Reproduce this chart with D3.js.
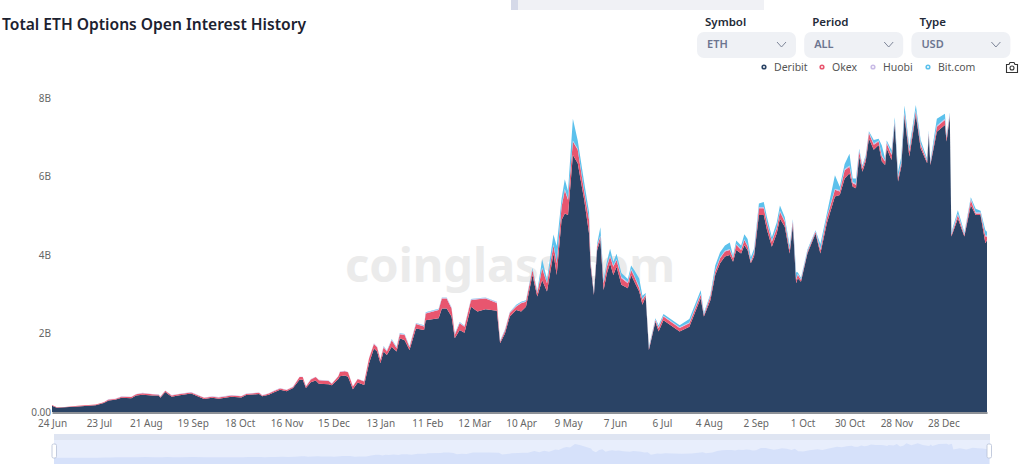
<!DOCTYPE html>
<html>
<head>
<meta charset="utf-8">
<title>Total ETH Options Open Interest History</title>
<script src="https://cdn.jsdelivr.net/npm/d3@7"></script>
<style>
  html, body { margin: 0; padding: 0; background: #fff; overflow: hidden; }
  text { font-family: "Noto Sans", sans-serif; }
</style>
</head>
<body>
<div class="graph"></div>
<script>
// days since 24 Jun
const days = [
  0,3,8,16,27,32,35,39,43,49,
  52,56,62,66,67,70,74,78,86,94,
  99,103,111,117,120,128,130,134,137,141,
  145,149,153,155,157,160,163,165,171,173,
  177,178,181,
  183,186,189,193,196,199,201,203,205,207,
  210,213,215,218,221,225,230,231,239,241,
  244,247,249,252,255,259,263,268,275,277,
  280,283,287,290,293,297,300,303,306,310,
  312,315,317,319,322,325,329,332,333,335,
  337,339,341,343,345,347,349,352,356,358,
  360,363,365,367,369,373,375,378,388,
  394,401,403,407,410,413,416,419,421,423,
  426,428,430,432,434,437,440,442,445,448,
  450,453,456,458,460,461,463,467,472,475,
  479,484,487,490,493,495,497,499,501,503,
  505,508,511,513,515,516,519,521,523,525,
  527,530,534,537,541,542,543,547,552,553,
  555,556,560,564,568,571,574,577,578
]
// all in billions of USD
const deribit = [
  .16,.11,.12,.14,.17,.23,.29,.31,.36,.35,
  .42,.44,.42,.42,.36,.51,.39,.42,.47,.33,
  .36,.34,.39,.37,.43,.46,.40,.44,.50,.57,
  .53,.61,.82,.82,.61,.76,.80,.72,.71,.68,
  .84,.91,.93,
  .90,.58,.75,.69,1.24,1.62,1.54,1.24,1.54,1.45,
  1.66,1.54,1.88,1.83,1.58,2.13,2.09,2.34,2.39,2.64,
  2.64,2.43,1.88,2.09,2.02,2.68,2.56,2.62,2.58,1.75,
  2.00,2.43,2.60,2.56,2.68,3.49,2.94,3.36,3.07,4.04,
  3.49,4.89,5.06,5.02,6.55,6.34,5.40,4.55,3.70,2.98,
  4.13,4.38,3.11,3.53,3.79,3.49,3.70,3.24,3.15,3.49,
  3.32,3.07,2.73,2.94,1.58,2.30,2.05,2.34,2.05,
  2.17,2.90,2.43,2.85,3.49,3.79,3.96,4.00,3.83,4.13,
  4.04,4.25,4.13,3.79,3.96,5.02,5.02,4.64,4.21,4.55,
  4.93,4.72,4.04,4.76,3.28,3.41,3.32,4.04,4.55,4.04,
  4.81,5.49,5.53,5.95,6.08,5.74,5.70,6.51,6.12,6.38,
  6.97,6.68,6.80,6.38,6.29,6.72,6.42,7.35,5.87,6.25,
  7.52,6.51,7.57,6.72,6.34,7.06,6.29,7.14,7.31,6.89,
  7.52,4.47,4.93,4.47,5.27,5.02,5.02,4.30,4.38
]
const okex = [
  .02,.01,.01,.02,.02,.02,.03,.02,.03,.03,
  .03,.04,.03,.02,.03,.03,.03,.03,.03,.03,
  .03,.03,.03,.03,.03,.03,.02,.03,.03,.03,
  .03,.03,.07,.07,.04,.07,.09,.09,.08,.04,
  .07,.11,.11,
  .11,.07,.09,.09,.13,.11,.11,.09,.11,.09,
  .17,.09,.10,.13,.07,.11,.09,.17,.21,.25,
  .25,.21,.09,.17,.15,.17,.31,.27,.20,.04,
  .07,.09,.09,.21,.13,.13,.09,.30,.21,.21,
  .30,.34,.59,.38,.34,.34,.21,.34,.09,.04,
  .09,.09,.17,.17,.17,.21,.17,.17,.13,.13,
  .13,.09,.13,.04,.04,.04,.09,.09,.09,
  .09,.09,.04,.09,.09,.13,.13,.13,.09,.13,
  .09,.13,.09,.04,.09,.17,.17,.17,.13,.13,
  .17,.13,.09,.09,.09,.09,.04,.04,.04,.09,
  .13,.17,.09,.21,.17,.09,.09,.13,.09,.09,
  .13,.13,.09,.13,.09,.13,.13,.04,.09,.09,
  .09,.13,.09,.09,.04,.04,.04,.13,.13,.09,
  .04,.04,.09,.04,.13,.04,.04,.17,.09
]
const huobi = [
  .00,.00,.00,.00,.00,.00,.01,.01,.01,.01,
  .01,.01,.01,.01,.01,.01,.01,.01,.01,.01,
  .01,.01,.01,.01,.01,.01,.01,.01,.01,.01,
  .01,.01,.01,.01,.01,.01,.01,.01,.01,.01,
  .01,.01,.01,
  .01,.01,.01,.01,.01,.02,.02,.02,.02,.02,
  .02,.02,.02,.02,.02,.02,.02,.02,.02,.02,
  .02,.02,.02,.02,.02,.02,.02,.02,.02,.02,
  .02,.02,.02,.02,.02,.02,.02,.02,.02,.02,
  .02,.03,.03,.03,.03,.03,.03,.03,.02,.02,
  .02,.03,.03,.03,.03,.03,.03,.03,.03,.03,
  .03,.03,.02,.02,.02,.02,.02,.02,.02,
  .02,.02,.02,.02,.02,.02,.02,.02,.02,.02,
  .02,.02,.02,.02,.02,.03,.03,.02,.02,.02,
  .03,.02,.02,.02,.02,.02,.02,.02,.02,.02,
  .03,.03,.03,.03,.03,.03,.03,.03,.03,.03,
  .03,.03,.03,.03,.03,.03,.03,.03,.03,.03,
  .03,.03,.03,.03,.03,.03,.03,.03,.03,.03,
  .03,.03,.03,.03,.03,.03,.03,.03,.03
]
const bitcom = [
  .00,.00,.00,.00,.00,.00,.00,.00,.00,.00,
  .00,.00,.00,.00,.00,.00,.00,.00,.00,.00,
  .00,.00,.00,.00,.00,.00,.00,.00,.00,.00,
  .00,.00,.00,.00,.00,.00,.00,.00,.00,.00,
  .00,.00,.00,
  .00,.00,.00,.00,.00,.00,.00,.00,.01,.01,
  .01,.01,.01,.01,.01,.01,.01,.01,.01,.01,
  .01,.01,.01,.01,.01,.01,.01,.01,.01,.01,
  .01,.01,.02,.02,.02,.03,.03,.21,.08,.25,
  .42,.17,.25,.20,.55,.21,.21,.17,.03,.02,
  .05,.21,.08,.10,.17,.10,.13,.10,.08,.08,
  .13,.21,.08,.03,.03,.03,.05,.05,.05,
  .09,.09,.04,.04,.13,.13,.13,.17,.04,.09,
  .09,.13,.17,.09,.09,.09,.13,.13,.09,.13,
  .13,.09,.09,.04,.17,.04,.04,.04,.02,.13,
  .09,.34,.09,.13,.30,.09,.13,.04,.04,.04,
  .02,.09,.04,.25,.04,.04,.09,.09,.13,.13,
  .17,.09,.13,.09,.04,.04,.04,.17,.13,.04,
  .04,.04,.09,.04,.04,.09,.04,.13,.09
]
const seriesNames = ['Deribit', 'Okex', 'Huobi', 'Bit.com']
const seriesColors = ['#2a4365', '#e8566f', '#c9bbe6', '#5cc1ec']

const tickDays = [0,29,58,87,116,145,174,203,232,261,290,319,348,377,406,435,464,493,522,551]
const tickLabels = ['24 Jun','23 Jul','21 Aug','19 Sep','18 Oct','16 Nov','15 Dec','13 Jan','11 Feb','12 Mar',
  '10 Apr','9 May','7 Jun','6 Jul','4 Aug','2 Sep','1 Oct','30 Oct','28 Nov','28 Dec']
const yTicks = [0, 2, 4, 6, 8]
const yTickLabels = ['0.00', '2B', '4B', '6B', '8B']

const selectTitles = ['Symbol', 'Period', 'Type']
const selectValues = ['ETH', 'ALL', 'USD']

const width = 1024
const height = 466

const svg = d3.select('.graph').append('svg')
  .attr('width', width)
  .attr('height', height)
  .style('display', 'block')

const x = d3.scaleLinear().domain([0, 578]).range([52, 987])
const y = d3.scaleLinear().domain([0, 8]).range([412, 98])

// bits of the page cut off at the top
svg.append('rect').attr('x', 511).attr('y', 0).attr('width', 7).attr('height', 10).attr('fill', '#d5d9e8')
svg.append('rect').attr('x', 518).attr('y', 0).attr('width', 246).attr('height', 10).attr('fill', '#f0f1f5')

svg.append('text')
  .attr('x', 2).attr('y', 30)
  .attr('font-size', 15.6).attr('font-weight', 600)
  .attr('fill', '#1c2230')
  .text('Total ETH Options Open Interest History')

// watermark
svg.append('text')
  .attr('x', 510).attr('y', 282)
  .attr('text-anchor', 'middle')
  .attr('font-size', 47).attr('font-weight', 700)
  .attr('fill', '#ebebeb')
  .text('coinglass.com')

//绘制堆叠面积
const rows = days.map((d, i) => ({ day: d, 'Deribit': deribit[i], 'Okex': okex[i], 'Huobi': huobi[i], 'Bit.com': bitcom[i] }))
const stacked = d3.stack().keys(seriesNames)(rows)
const area = d3.area()
  .x(d => x(d.data.day))
  .y0(d => y(d[0]))
  .y1(d => y(d[1]))

svg.append('g').selectAll('path')
  .data(stacked)
  .enter()
  .append('path')
  .attr('d', area)
  .attr('fill', (d, i) => seriesColors[i])

// y axis
const yAxis = svg.append('g')
  .attr('transform', 'translate(52,0)')
  .call(d3.axisLeft(y).tickValues(yTicks).tickSize(0).tickPadding(1).tickFormat((d, i) => yTickLabels[i]))
yAxis.select('.domain').remove()
yAxis.selectAll('text').attr('font-size', 10).attr('fill', '#666').style('font-family', '"Noto Sans", sans-serif')

// x axis
const xAxis = svg.append('g')
  .attr('transform', 'translate(0,412.5)')
  .call(d3.axisBottom(x).tickValues(tickDays).tickSize(0).tickPadding(7).tickFormat((d, i) => tickLabels[i]))
xAxis.select('.domain').attr('stroke', '#1d2430').attr('stroke-width', 1.2)
xAxis.selectAll('text').attr('font-size', 10).attr('fill', '#666').style('font-family', '"Noto Sans", sans-serif')

//下拉框
const selects = svg.append('g').selectAll('g')
  .data(selectTitles)
  .enter()
  .append('g')
  .attr('transform', (d, i) => `translate(${697 + i * 107.2},0)`)
selects.append('text')
  .attr('x', 8).attr('y', 26)
  .attr('font-size', 11.5).attr('font-weight', 600).attr('fill', '#232a38')
  .text(d => d)
selects.append('rect')
  .attr('y', 32).attr('width', 99).attr('height', 26).attr('rx', 7)
  .attr('fill', '#eff1f5')
selects.append('text')
  .attr('x', 10).attr('y', 48)
  .attr('font-size', 11).attr('font-weight', 600).attr('fill', '#6c7590')
  .text((d, i) => selectValues[i])
selects.append('path')
  .attr('d', 'M80,42L84.5,47L89,42')
  .attr('fill', 'none').attr('stroke', '#7d8598').attr('stroke-width', 1)

// legend
const legendDotX = [764, 822, 873, 928]
const legend = svg.append('g').selectAll('g')
  .data(seriesNames)
  .enter()
  .append('g')
  .attr('transform', (d, i) => `translate(${legendDotX[i]},67)`)
legend.append('circle')
  .attr('r', 1.8)
  .attr('fill', 'none')
  .attr('stroke', (d, i) => seriesColors[i])
  .attr('stroke-width', 1.6)
legend.append('text')
  .attr('x', 10).attr('y', 3.5)
  .attr('font-size', 10.5).attr('fill', '#555')
  .text(d => d)

// camera icon
const camera = svg.append('g').attr('transform', 'translate(1006,62)')
camera.append('path')
  .attr('d', 'M.5,2.5H3L4,.5H8L9,2.5H11.5V10.5H.5Z')
  .attr('fill', 'none').attr('stroke', '#333').attr('stroke-width', 1.1)
camera.append('circle')
  .attr('cx', 6).attr('cy', 6).attr('r', 2)
  .attr('fill', 'none').attr('stroke', '#333').attr('stroke-width', 1.1)

// 底部滑块
const sliderX = d3.scaleLinear().domain([0, 578]).range([54, 989])
const sliderY = d3.scaleLinear().domain([0, 8]).range([458, 443])
const slider = svg.append('g')
slider.append('rect').attr('x', 54).attr('y', 434).attr('width', 936).attr('height', 30).attr('fill', '#e8eefc')
slider.append('rect').attr('x', 54).attr('y', 434).attr('width', 936).attr('height', 6).attr('fill', '#dfe5f2')
const miniArea = d3.area()
  .x(d => sliderX(d.data.day))
  .y0(464)
  .y1(d => sliderY(d[1]))
slider.append('path').attr('d', miniArea(stacked[3])).attr('fill', '#d6e1fa')
slider.selectAll('.handle')
  .data([54, 989])
  .enter()
  .append('rect')
  .attr('class', 'handle')
  .attr('x', d => d - 2).attr('y', 444)
  .attr('width', 4.5).attr('height', 14).attr('rx', 1.5)
  .attr('fill', '#fff').attr('stroke', '#b5bfd6').attr('stroke-width', .8)
</script>
</body>
</html>
